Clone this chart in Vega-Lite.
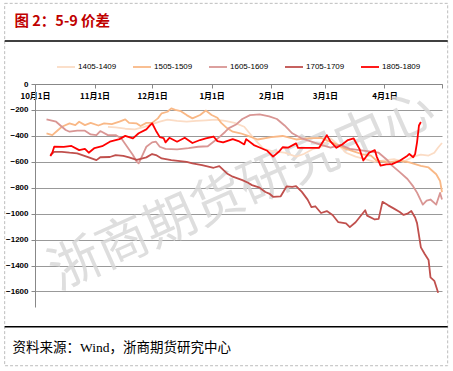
{
  "$schema": "https://vega.github.io/schema/vega-lite/v6.json",
  "background": "white",
  "autosize": {"type": "none"},
  "padding": {"left": 35, "top": 84, "right": 11, "bottom": 64},
  "width": 407,
  "height": 223,
  "config": {"view": {"stroke": null}},
  "layer": [
    {
      "data": {"values": [{}]},
      "mark": {"type": "rect", "filled": false, "stroke": "#BDBDBD", "strokeWidth": 1, "strokeDash": [3, 2], "clip": false},
      "encoding": {
        "x": {"datum": {"year": 2017, "month": 9, "date": 15, "hours": 5}, "type": "temporal"},
        "x2": {"datum": {"year": 2018, "month": 5, "date": 3, "hours": 23}},
        "y": {"datum": 622, "type": "quantitative"},
        "y2": {"datum": -2173}
      }
    },
    {
      "data": {"values": [{"p": 332}, {"p": -1872}]},
      "mark": {"type": "rule", "color": "#000000", "strokeWidth": 1.5, "clip": false},
      "encoding": {
        "x": {"datum": {"year": 2017, "month": 9, "date": 15, "hours": 5}, "type": "temporal"},
        "x2": {"datum": {"year": 2018, "month": 5, "date": 3, "hours": 23}},
        "y": {"field": "p", "type": "quantitative"}
      }
    },
    {
      "data": {"values": [{}]},
      "mark": {"type": "text", "font": "Noto Sans CJK SC", "fontSize": 52, "angle": -24, "color": "#d9d9d9", "opacity": 0.85},
      "encoding": {
        "x": {"datum": {"year": 2018, "month": 1, "date": 16, "hours": 19}, "type": "temporal"},
        "y": {"datum": -825, "type": "quantitative"},
        "text": {"value": "浙商期货研究中心"}
      }
    },
    {
      "data": {"values": [
{"s":"1405-1409","d":"2017/11/08","v":-330},{"s":"1405-1409","d":"2017/11/12","v":-335},{"s":"1405-1409","d":"2017/11/17","v":-345},{"s":"1405-1409","d":"2017/11/22","v":-350},{"s":"1405-1409","d":"2017/11/27","v":-330},{"s":"1405-1409","d":"2017/12/01","v":-310},{"s":"1405-1409","d":"2017/12/05","v":-290},{"s":"1405-1409","d":"2017/12/09","v":-275},{"s":"1405-1409","d":"2017/12/14","v":-285},{"s":"1405-1409","d":"2017/12/19","v":-290},{"s":"1405-1409","d":"2017/12/24","v":-285},{"s":"1405-1409","d":"2017/12/29","v":-280},{"s":"1405-1409","d":"2018/01/03","v":-275},{"s":"1405-1409","d":"2018/01/08","v":-285},{"s":"1405-1409","d":"2018/01/13","v":-300},{"s":"1405-1409","d":"2018/01/18","v":-330},{"s":"1405-1409","d":"2018/01/23","v":-420},{"s":"1405-1409","d":"2018/01/28","v":-500},{"s":"1405-1409","d":"2018/02/02","v":-520},{"s":"1405-1409","d":"2018/02/08","v":-530},{"s":"1405-1409","d":"2018/02/14","v":-560},{"s":"1405-1409","d":"2018/02/18","v":-540},{"s":"1405-1409","d":"2018/02/23","v":-500},{"s":"1405-1409","d":"2018/02/28","v":-480},{"s":"1405-1409","d":"2018/03/04","v":-420},{"s":"1405-1409","d":"2018/03/08","v":-470},{"s":"1405-1409","d":"2018/03/12","v":-530},{"s":"1405-1409","d":"2018/03/17","v":-560},{"s":"1405-1409","d":"2018/03/22","v":-580},{"s":"1405-1409","d":"2018/03/27","v":-600},{"s":"1405-1409","d":"2018/04/01","v":-590},{"s":"1405-1409","d":"2018/04/06","v":-580},{"s":"1405-1409","d":"2018/04/11","v":-600},{"s":"1405-1409","d":"2018/04/16","v":-560},{"s":"1405-1409","d":"2018/04/20","v":-545},{"s":"1405-1409","d":"2018/04/24","v":-552},{"s":"1405-1409","d":"2018/04/27","v":-530},{"s":"1405-1409","d":"2018/04/29","v":-490},{"s":"1405-1409","d":"2018/05/01","v":-455},
{"s":"1505-1509","d":"2017/10/07","v":-381},{"s":"1505-1509","d":"2017/10/10","v":-394},{"s":"1505-1509","d":"2017/10/12","v":-368},{"s":"1505-1509","d":"2017/10/15","v":-330},{"s":"1505-1509","d":"2017/10/19","v":-304},{"s":"1505-1509","d":"2017/10/22","v":-317},{"s":"1505-1509","d":"2017/10/24","v":-291},{"s":"1505-1509","d":"2017/10/27","v":-317},{"s":"1505-1509","d":"2017/10/30","v":-300},{"s":"1505-1509","d":"2017/11/03","v":-320},{"s":"1505-1509","d":"2017/11/06","v":-304},{"s":"1505-1509","d":"2017/11/10","v":-310},{"s":"1505-1509","d":"2017/11/14","v":-290},{"s":"1505-1509","d":"2017/11/17","v":-273},{"s":"1505-1509","d":"2017/11/19","v":-300},{"s":"1505-1509","d":"2017/11/23","v":-304},{"s":"1505-1509","d":"2017/11/25","v":-324},{"s":"1505-1509","d":"2017/11/28","v":-300},{"s":"1505-1509","d":"2017/12/01","v":-300},{"s":"1505-1509","d":"2017/12/04","v":-265},{"s":"1505-1509","d":"2017/12/06","v":-226},{"s":"1505-1509","d":"2017/12/09","v":-214},{"s":"1505-1509","d":"2017/12/11","v":-188},{"s":"1505-1509","d":"2017/12/13","v":-200},{"s":"1505-1509","d":"2017/12/16","v":-210},{"s":"1505-1509","d":"2017/12/19","v":-240},{"s":"1505-1509","d":"2017/12/22","v":-265},{"s":"1505-1509","d":"2017/12/26","v":-239},{"s":"1505-1509","d":"2017/12/29","v":-205},{"s":"1505-1509","d":"2018/01/01","v":-239},{"s":"1505-1509","d":"2018/01/04","v":-260},{"s":"1505-1509","d":"2018/01/06","v":-300},{"s":"1505-1509","d":"2018/01/09","v":-340},{"s":"1505-1509","d":"2018/01/12","v":-368},{"s":"1505-1509","d":"2018/01/16","v":-380},{"s":"1505-1509","d":"2018/01/20","v":-400},{"s":"1505-1509","d":"2018/01/25","v":-428},{"s":"1505-1509","d":"2018/02/01","v":-410},{"s":"1505-1509","d":"2018/02/07","v":-401},{"s":"1505-1509","d":"2018/02/14","v":-428},{"s":"1505-1509","d":"2018/02/20","v":-420},{"s":"1505-1509","d":"2018/02/27","v":-415},{"s":"1505-1509","d":"2018/03/03","v":-440},{"s":"1505-1509","d":"2018/03/07","v":-466},{"s":"1505-1509","d":"2018/03/12","v":-500},{"s":"1505-1509","d":"2018/03/16","v":-519},{"s":"1505-1509","d":"2018/03/20","v":-540},{"s":"1505-1509","d":"2018/03/25","v":-553},{"s":"1505-1509","d":"2018/03/28","v":-592},{"s":"1505-1509","d":"2018/04/03","v":-605},{"s":"1505-1509","d":"2018/04/09","v":-592},{"s":"1505-1509","d":"2018/04/14","v":-605},{"s":"1505-1509","d":"2018/04/20","v":-631},{"s":"1505-1509","d":"2018/04/24","v":-644},{"s":"1505-1509","d":"2018/04/28","v":-696},{"s":"1505-1509","d":"2018/04/30","v":-748},{"s":"1505-1509","d":"2018/05/01","v":-835},
{"s":"1605-1609","d":"2017/10/07","v":-273},{"s":"1605-1609","d":"2017/10/12","v":-291},{"s":"1605-1609","d":"2017/10/15","v":-330},{"s":"1605-1609","d":"2017/10/17","v":-355},{"s":"1605-1609","d":"2017/10/19","v":-368},{"s":"1605-1609","d":"2017/10/23","v":-360},{"s":"1605-1609","d":"2017/10/27","v":-360},{"s":"1605-1609","d":"2017/10/30","v":-389},{"s":"1605-1609","d":"2017/11/02","v":-394},{"s":"1605-1609","d":"2017/11/04","v":-363},{"s":"1605-1609","d":"2017/11/08","v":-394},{"s":"1605-1609","d":"2017/11/12","v":-394},{"s":"1605-1609","d":"2017/11/15","v":-420},{"s":"1605-1609","d":"2017/11/18","v":-484},{"s":"1605-1609","d":"2017/11/21","v":-548},{"s":"1605-1609","d":"2017/11/23","v":-600},{"s":"1605-1609","d":"2017/11/24","v":-612},{"s":"1605-1609","d":"2017/11/26","v":-548},{"s":"1605-1609","d":"2017/11/28","v":-484},{"s":"1605-1609","d":"2017/12/01","v":-450},{"s":"1605-1609","d":"2017/12/03","v":-445},{"s":"1605-1609","d":"2017/12/05","v":-484},{"s":"1605-1609","d":"2017/12/08","v":-500},{"s":"1605-1609","d":"2017/12/14","v":-505},{"s":"1605-1609","d":"2017/12/20","v":-495},{"s":"1605-1609","d":"2017/12/25","v":-484},{"s":"1605-1609","d":"2017/12/30","v":-480},{"s":"1605-1609","d":"2018/01/02","v":-445},{"s":"1605-1609","d":"2018/01/05","v":-410},{"s":"1605-1609","d":"2018/01/08","v":-370},{"s":"1605-1609","d":"2018/01/10","v":-340},{"s":"1605-1609","d":"2018/01/14","v":-310},{"s":"1605-1609","d":"2018/01/17","v":-270},{"s":"1605-1609","d":"2018/01/21","v":-240},{"s":"1605-1609","d":"2018/01/26","v":-235},{"s":"1605-1609","d":"2018/01/31","v":-250},{"s":"1605-1609","d":"2018/02/04","v":-270},{"s":"1605-1609","d":"2018/02/08","v":-320},{"s":"1605-1609","d":"2018/02/12","v":-380},{"s":"1605-1609","d":"2018/02/17","v":-420},{"s":"1605-1609","d":"2018/02/22","v":-445},{"s":"1605-1609","d":"2018/02/27","v":-470},{"s":"1605-1609","d":"2018/03/04","v":-490},{"s":"1605-1609","d":"2018/03/09","v":-470},{"s":"1605-1609","d":"2018/03/14","v":-500},{"s":"1605-1609","d":"2018/03/19","v":-510},{"s":"1605-1609","d":"2018/03/24","v":-520},{"s":"1605-1609","d":"2018/03/29","v":-530},{"s":"1605-1609","d":"2018/04/02","v":-580},{"s":"1605-1609","d":"2018/04/05","v":-630},{"s":"1605-1609","d":"2018/04/09","v":-680},{"s":"1605-1609","d":"2018/04/13","v":-733},{"s":"1605-1609","d":"2018/04/16","v":-790},{"s":"1605-1609","d":"2018/04/18","v":-838},{"s":"1605-1609","d":"2018/04/21","v":-930},{"s":"1605-1609","d":"2018/04/23","v":-900},{"s":"1605-1609","d":"2018/04/25","v":-891},{"s":"1605-1609","d":"2018/04/28","v":-930},{"s":"1605-1609","d":"2018/04/30","v":-840},{"s":"1605-1609","d":"2018/05/01","v":-890},
{"s":"1705-1709","d":"2017/10/09","v":-548},{"s":"1705-1709","d":"2017/10/11","v":-523},{"s":"1705-1709","d":"2017/10/15","v":-523},{"s":"1705-1709","d":"2017/10/19","v":-530},{"s":"1705-1709","d":"2017/10/23","v":-535},{"s":"1705-1709","d":"2017/10/26","v":-550},{"s":"1705-1709","d":"2017/10/29","v":-566},{"s":"1705-1709","d":"2017/11/02","v":-587},{"s":"1705-1709","d":"2017/11/04","v":-565},{"s":"1705-1709","d":"2017/11/09","v":-563},{"s":"1705-1709","d":"2017/11/12","v":-548},{"s":"1705-1709","d":"2017/11/16","v":-555},{"s":"1705-1709","d":"2017/11/19","v":-566},{"s":"1705-1709","d":"2017/11/23","v":-585},{"s":"1705-1709","d":"2017/11/28","v":-566},{"s":"1705-1709","d":"2017/12/01","v":-540},{"s":"1705-1709","d":"2017/12/03","v":-548},{"s":"1705-1709","d":"2017/12/06","v":-574},{"s":"1705-1709","d":"2017/12/11","v":-587},{"s":"1705-1709","d":"2017/12/19","v":-600},{"s":"1705-1709","d":"2017/12/22","v":-612},{"s":"1705-1709","d":"2017/12/27","v":-625},{"s":"1705-1709","d":"2018/01/02","v":-646},{"s":"1705-1709","d":"2018/01/05","v":-633},{"s":"1705-1709","d":"2018/01/09","v":-690},{"s":"1705-1709","d":"2018/01/12","v":-715},{"s":"1705-1709","d":"2018/01/17","v":-741},{"s":"1705-1709","d":"2018/01/20","v":-762},{"s":"1705-1709","d":"2018/01/22","v":-780},{"s":"1705-1709","d":"2018/01/26","v":-800},{"s":"1705-1709","d":"2018/01/29","v":-833},{"s":"1705-1709","d":"2018/01/31","v":-845},{"s":"1705-1709","d":"2018/02/02","v":-870},{"s":"1705-1709","d":"2018/02/06","v":-866},{"s":"1705-1709","d":"2018/02/09","v":-790},{"s":"1705-1709","d":"2018/02/12","v":-794},{"s":"1705-1709","d":"2018/02/14","v":-788},{"s":"1705-1709","d":"2018/02/17","v":-832},{"s":"1705-1709","d":"2018/02/20","v":-892},{"s":"1705-1709","d":"2018/02/22","v":-950},{"s":"1705-1709","d":"2018/02/24","v":-943},{"s":"1705-1709","d":"2018/02/27","v":-995},{"s":"1705-1709","d":"2018/03/02","v":-980},{"s":"1705-1709","d":"2018/03/05","v":-1010},{"s":"1705-1709","d":"2018/03/08","v":-1066},{"s":"1705-1709","d":"2018/03/12","v":-1075},{"s":"1705-1709","d":"2018/03/14","v":-1104},{"s":"1705-1709","d":"2018/03/17","v":-1066},{"s":"1705-1709","d":"2018/03/22","v":-974},{"s":"1705-1709","d":"2018/03/23","v":-1015},{"s":"1705-1709","d":"2018/03/27","v":-1045},{"s":"1705-1709","d":"2018/03/29","v":-1040},{"s":"1705-1709","d":"2018/03/31","v":-909},{"s":"1705-1709","d":"2018/04/03","v":-936},{"s":"1705-1709","d":"2018/04/06","v":-961},{"s":"1705-1709","d":"2018/04/09","v":-987},{"s":"1705-1709","d":"2018/04/11","v":-1010},{"s":"1705-1709","d":"2018/04/13","v":-1000},{"s":"1705-1709","d":"2018/04/15","v":-980},{"s":"1705-1709","d":"2018/04/17","v":-1030},{"s":"1705-1709","d":"2018/04/18","v":-1073},{"s":"1705-1709","d":"2018/04/20","v":-1260},{"s":"1705-1709","d":"2018/04/22","v":-1311},{"s":"1705-1709","d":"2018/04/24","v":-1357},{"s":"1705-1709","d":"2018/04/25","v":-1492},{"s":"1705-1709","d":"2018/04/27","v":-1518},{"s":"1705-1709","d":"2018/04/29","v":-1610},
{"s":"1805-1809","d":"2017/10/09","v":-556},{"s":"1805-1809","d":"2017/10/10","v":-530},{"s":"1805-1809","d":"2017/10/11","v":-484},{"s":"1805-1809","d":"2017/10/16","v":-485},{"s":"1805-1809","d":"2017/10/20","v":-478},{"s":"1805-1809","d":"2017/10/24","v":-510},{"s":"1805-1809","d":"2017/10/27","v":-500},{"s":"1805-1809","d":"2017/10/29","v":-530},{"s":"1805-1809","d":"2017/11/01","v":-494},{"s":"1805-1809","d":"2017/11/05","v":-480},{"s":"1805-1809","d":"2017/11/09","v":-445},{"s":"1805-1809","d":"2017/11/14","v":-425},{"s":"1805-1809","d":"2017/11/17","v":-400},{"s":"1805-1809","d":"2017/11/21","v":-420},{"s":"1805-1809","d":"2017/11/24","v":-380},{"s":"1805-1809","d":"2017/11/28","v":-350},{"s":"1805-1809","d":"2017/11/30","v":-317},{"s":"1805-1809","d":"2017/12/01","v":-303},{"s":"1805-1809","d":"2017/12/03","v":-360},{"s":"1805-1809","d":"2017/12/05","v":-410},{"s":"1805-1809","d":"2017/12/07","v":-417},{"s":"1805-1809","d":"2017/12/08","v":-450},{"s":"1805-1809","d":"2017/12/10","v":-415},{"s":"1805-1809","d":"2017/12/14","v":-445},{"s":"1805-1809","d":"2017/12/18","v":-414},{"s":"1805-1809","d":"2017/12/22","v":-455},{"s":"1805-1809","d":"2017/12/26","v":-432},{"s":"1805-1809","d":"2017/12/29","v":-420},{"s":"1805-1809","d":"2018/01/02","v":-405},{"s":"1805-1809","d":"2018/01/04","v":-440},{"s":"1805-1809","d":"2018/01/07","v":-450},{"s":"1805-1809","d":"2018/01/12","v":-425},{"s":"1805-1809","d":"2018/01/15","v":-440},{"s":"1805-1809","d":"2018/01/18","v":-466},{"s":"1805-1809","d":"2018/01/19","v":-425},{"s":"1805-1809","d":"2018/01/23","v":-471},{"s":"1805-1809","d":"2018/01/26","v":-490},{"s":"1805-1809","d":"2018/01/30","v":-515},{"s":"1805-1809","d":"2018/02/02","v":-560},{"s":"1805-1809","d":"2018/02/05","v":-523},{"s":"1805-1809","d":"2018/02/07","v":-488},{"s":"1805-1809","d":"2018/02/10","v":-490},{"s":"1805-1809","d":"2018/02/14","v":-458},{"s":"1805-1809","d":"2018/02/15","v":-492},{"s":"1805-1809","d":"2018/02/21","v":-492},{"s":"1805-1809","d":"2018/02/26","v":-492},{"s":"1805-1809","d":"2018/03/01","v":-420},{"s":"1805-1809","d":"2018/03/02","v":-394},{"s":"1805-1809","d":"2018/03/04","v":-445},{"s":"1805-1809","d":"2018/03/07","v":-492},{"s":"1805-1809","d":"2018/03/10","v":-466},{"s":"1805-1809","d":"2018/03/13","v":-432},{"s":"1805-1809","d":"2018/03/16","v":-420},{"s":"1805-1809","d":"2018/03/19","v":-500},{"s":"1805-1809","d":"2018/03/21","v":-590},{"s":"1805-1809","d":"2018/03/24","v":-530},{"s":"1805-1809","d":"2018/03/27","v":-510},{"s":"1805-1809","d":"2018/03/28","v":-560},{"s":"1805-1809","d":"2018/03/30","v":-630},{"s":"1805-1809","d":"2018/04/02","v":-620},{"s":"1805-1809","d":"2018/04/05","v":-618},{"s":"1805-1809","d":"2018/04/09","v":-592},{"s":"1805-1809","d":"2018/04/13","v":-553},{"s":"1805-1809","d":"2018/04/14","v":-540},{"s":"1805-1809","d":"2018/04/16","v":-565},{"s":"1805-1809","d":"2018/04/17","v":-540},{"s":"1805-1809","d":"2018/04/18","v":-450},{"s":"1805-1809","d":"2018/04/19","v":-320},{"s":"1805-1809","d":"2018/04/20","v":-293}
      ]},
      "mark": {"type": "line", "strokeJoin": "round"},
      "encoding": {
        "x": {
          "field": "d", "type": "temporal",
          "scale": {"domain": [{"year": 2017, "month": 10, "date": 1}, {"year": 2018, "month": 5, "date": 1}], "nice": false},
          "axis": {
            "orient": "bottom", "offset": -223, "grid": false,
            "values": [{"year": 2017, "month": 10, "date": 1}, {"year": 2017, "month": 11, "date": 1}, {"year": 2017, "month": 12, "date": 1}, {"year": 2018, "month": 1, "date": 1}, {"year": 2018, "month": 2, "date": 1}, {"year": 2018, "month": 3, "date": 1}, {"year": 2018, "month": 4, "date": 1}, {"year": 2018, "month": 5, "date": 1}],
            "labelExpr": "month(datum.value) == 4 ? '' : timeFormat(datum.value, '%-m月%-d日')",
            "labelFont": "Noto Sans CJK SC", "labelFontSize": 8, "labelFontWeight": "bold", "labelColor": "#000000",
            "labelPadding": 4, "labelFlush": false, "labelOverlap": false,
            "tickSize": 4, "tickColor": "#888888", "domainColor": "#888888",
            "title": "资料来源：Wind，浙商期货研究中心",
            "titleX": -23, "titleY": 263, "titleAlign": "left", "titleAnchor": "start", "titleBaseline": "middle", "titleAngle": 0,
            "titleFont": "Liberation Serif, Noto Sans CJK SC", "titleFontSize": 13.5, "titleFontWeight": "normal", "titleColor": "#000000"
          }
        },
        "y": {
          "field": "v", "type": "quantitative",
          "scale": {"domain": [-1720, 0], "nice": false, "zero": false},
          "axis": {
            "values": [0, -200, -400, -600, -800, -1000, -1200, -1400, -1600], "tickCount": 9,
            "format": "d", "grid": true, "gridColor": "#999999", "gridWidth": 1, "labelOverlap": false,
            "domainColor": "#888888", "tickColor": "#888888", "tickSize": 4,
            "labelFont": "Liberation Sans", "labelFontSize": 8, "labelFontWeight": "bold", "labelColor": "#000000",
            "labelPadding": 3,
            "title": "图 2：5-9 价差",
            "titleX": -21, "titleY": -63, "titleAngle": 0, "titleAlign": "left", "titleAnchor": "start", "titleBaseline": "middle",
            "titleFont": "Noto Sans CJK SC", "titleFontSize": 14.5, "titleFontWeight": "bold", "titleColor": "#C00000"
          }
        },
        "color": {
          "field": "s", "type": "nominal",
          "scale": {"domain": ["1405-1409", "1505-1509", "1605-1609", "1705-1709", "1805-1809"], "range": ["#FBDCC5", "#F9B886", "#D99694", "#C0504D", "#FF0000"]},
          "legend": {
            "orient": "none", "legendX": 21, "legendY": -27, "direction": "horizontal", "columns": 5,
            "title": null, "symbolType": "stroke", "symbolSize": 324, "symbolStrokeWidth": 2.4,
            "labelFont": "Liberation Sans", "labelFontSize": 8, "labelColor": "#000000",
            "labelOffset": 2, "columnPadding": 12, "padding": 0
          }
        },
        "strokeWidth": {
          "field": "s", "type": "nominal",
          "scale": {"domain": ["1405-1409", "1505-1509", "1605-1609", "1705-1709", "1805-1809"], "range": [1.8, 1.8, 1.8, 1.8, 2.6]},
          "legend": null
        }
      }
    }
  ]
}
